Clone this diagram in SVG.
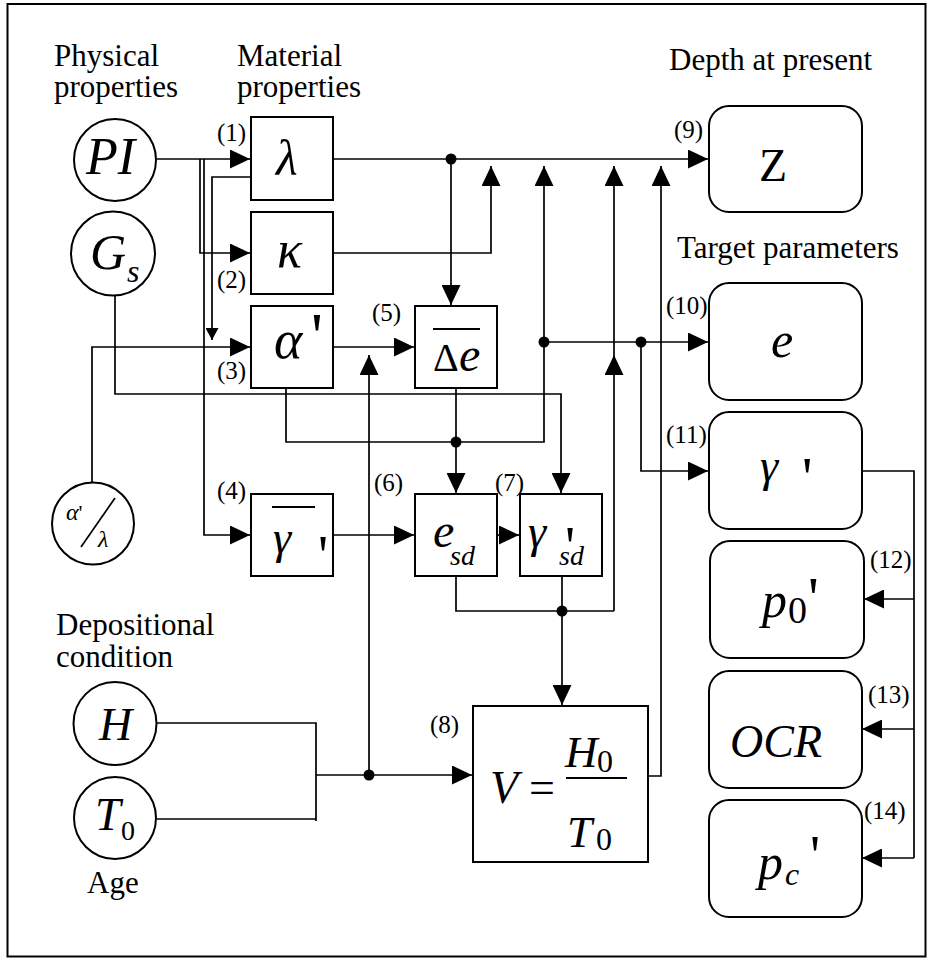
<svg xmlns="http://www.w3.org/2000/svg" width="927" height="958" viewBox="0 0 927 958">
<style>
text{font-family:"Liberation Serif","Times New Roman",serif}
.lbl{font-size:31px}
.num{font-size:25px}
.it{font-style:italic}
.box{fill:#fff;stroke:#000;stroke-width:2}
.c{fill:none;stroke:#000;stroke-width:1.7}
.dot{fill:#000}
</style>
<defs>
<marker id="a" viewBox="0 0 20 19" refX="20" refY="9.5" markerWidth="20" markerHeight="19" markerUnits="userSpaceOnUse" orient="auto">
<path d="M0,0 L20,9.5 L0,19 Z" fill="#000"/>
</marker>
<marker id="s" viewBox="0 0 12 13" refX="12" refY="6.5" markerWidth="12" markerHeight="13" markerUnits="userSpaceOnUse" orient="auto">
<path d="M0,0 L12,6.5 L0,13 Z" fill="#000"/>
</marker>
</defs>
<rect x="7.5" y="4" width="918" height="952.5" fill="#fff" stroke="#000" stroke-width="2"/>

<g id="headings">
<text class="lbl" x="54" y="66">Physical<tspan x="54" y="97">properties</tspan></text>
<text class="lbl" x="237" y="66">Material<tspan x="237" y="97">properties</tspan></text>
<text class="lbl" x="669" y="70">Depth at present</text>
<text class="lbl" x="677" y="258">Target parameters</text>
<text class="lbl" x="56" y="635">Depositional<tspan x="56" y="667">condition</tspan></text>
<text class="lbl" x="87" y="893">Age</text>
</g>

<g id="connectors">
<path class="c" d="M157,159 H250" marker-end="url(#a)"/>
<path class="c" d="M200,159 V253 H250" marker-end="url(#a)"/>
<path class="c" d="M204,159 V535 H250" marker-end="url(#a)"/>
<path class="c" d="M250,177 H212 V340" marker-end="url(#s)"/>
<path class="c" d="M115,295 V394 H561 V493" marker-end="url(#a)"/>
<path class="c" d="M92,482 V347 H250" marker-end="url(#a)"/>
<path class="c" d="M333,159 H708" marker-end="url(#a)"/>
<path class="c" d="M451,159 V305" marker-end="url(#a)"/>
<path class="c" d="M333,253 H491 V166" marker-end="url(#a)"/>
<path class="c" d="M333,347 H414" marker-end="url(#a)"/>
<path class="c" d="M286,388 V442 H544 V166" marker-end="url(#a)"/>
<path class="c" d="M456,388 V493" marker-end="url(#a)"/>
<path class="c" d="M544,342 H708" marker-end="url(#a)"/>
<path class="c" d="M641,342 V471 H708" marker-end="url(#a)"/>
<path class="c" d="M333,535 H414" marker-end="url(#a)"/>
<path class="c" d="M497,535 H519" marker-end="url(#a)"/>
<path class="c" d="M456,576 V611 H614"/>
<path class="c" d="M562,576 V611"/>
<path class="c" d="M562,611 V705" marker-end="url(#a)"/>
<path class="c" d="M614,611 V355" marker-end="url(#a)"/>
<path class="c" d="M614,355 V166" marker-end="url(#a)"/>
<path class="c" d="M157,723 H316 V821"/>
<path class="c" d="M157,819 H316"/>
<path class="c" d="M316,775 H472" marker-end="url(#a)"/>
<path class="c" d="M369,775 V355" marker-end="url(#a)"/>
<path class="c" d="M648,776 H661 V166" marker-end="url(#a)"/>
<path class="c" d="M862,471 H914 V858"/>
<path class="c" d="M914,599 H864" marker-end="url(#a)"/>
<path class="c" d="M914,729 H862" marker-end="url(#a)"/>
<path class="c" d="M914,858 H862" marker-end="url(#a)"/>
<circle class="dot" cx="451" cy="159" r="5.5"/>
<circle class="dot" cx="544" cy="342" r="5.5"/>
<circle class="dot" cx="641" cy="342" r="5.5"/>
<circle class="dot" cx="456" cy="442" r="5.5"/>
<circle class="dot" cx="562" cy="611" r="5.5"/>
<circle class="dot" cx="369" cy="775" r="5.5"/>
</g>

<g id="labels">
<text class="num" x="217" y="141">(1)</text>
<text class="num" x="217" y="288">(2)</text>
<text class="num" x="217" y="379">(3)</text>
<text class="num" x="217" y="499">(4)</text>
<text class="num" x="372" y="321">(5)</text>
<text class="num" x="374" y="491">(6)</text>
<text class="num" x="495" y="491">(7)</text>
<text class="num" x="430" y="733">(8)</text>
<text class="num" x="674" y="138">(9)</text>
<text class="num" x="666" y="314">(10)</text>
<text class="num" x="666" y="443">(11)</text>
<text class="num" x="870" y="568">(12)</text>
<text class="num" x="868" y="703">(13)</text>
<text class="num" x="864" y="819">(14)</text>
</g>

<g id="nodes">
<g id="PI">
<circle class="box" cx="115" cy="160" r="41"/>
<text class="it" x="86" y="174" font-size="52">PI</text>
</g>
<g id="Gs">
<circle class="box" cx="113" cy="253.5" r="42"/>
<text class="it" x="90" y="269" font-size="50">G<tspan x="127" y="282" font-size="32">s</tspan></text>
</g>
<g id="alpha-lambda">
<circle class="box" cx="93" cy="523.5" r="41"/>
<text class="it" x="66" y="520" font-size="24">α<tspan font-style="normal" font-size="22">'</tspan></text>
<line x1="81" y1="547" x2="115" y2="498" stroke="#000" stroke-width="1.7"/>
<text class="it" x="98" y="547" font-size="24">λ</text>
</g>
<g id="H">
<circle class="box" cx="115" cy="723.5" r="41.5"/>
<text class="it" x="99" y="740" font-size="46">H</text>
</g>
<g id="T0">
<circle class="box" cx="115" cy="818" r="41"/>
<text class="it" x="95" y="830" font-size="46">T<tspan x="121" y="840" font-style="normal" font-size="28">0</tspan></text>
</g>

<g id="lambda">
<rect class="box" x="251" y="117" width="82" height="83"/>
<text class="it" x="276" y="175" font-size="50">λ</text>
</g>
<g id="kappa">
<rect class="box" x="251" y="212" width="82" height="82"/>
<text class="it" x="277" y="267" font-size="52">κ</text>
</g>
<g id="alpha">
<rect class="box" x="251" y="306" width="82" height="82"/>
<text class="it" x="274" y="358" font-size="54">α<tspan x="311" y="358" font-style="normal" font-size="66">'</tspan></text>
</g>
<g id="gammabar">
<rect class="box" x="251" y="494" width="82" height="82"/>
<line x1="272" y1="507" x2="315" y2="507" stroke="#000" stroke-width="2"/>
<text class="it" x="273" y="553" font-size="46">γ<tspan x="318" y="575" font-style="normal" font-size="56">'</tspan></text>
</g>
<g id="deltae">
<rect class="box" x="415" y="306" width="82" height="82"/>
<line x1="433" y1="329" x2="480" y2="329" stroke="#000" stroke-width="2"/>
<text x="433" y="371" font-size="40">Δ<tspan x="459" font-style="italic" font-size="48">e</tspan></text>
</g>
<g id="esd">
<rect class="box" x="415" y="494" width="82" height="82"/>
<text class="it" x="433" y="547" font-size="48">e<tspan x="450" y="565" font-size="28">sd</tspan></text>
</g>
<g id="gammasd">
<rect class="box" x="520" y="494" width="82" height="82"/>
<text class="it" x="528" y="547" font-size="46">γ<tspan x="565" y="566" font-style="normal" font-size="56">'</tspan><tspan x="559" y="565" font-size="28">sd</tspan></text>
</g>
<g id="V">
<rect class="box" x="473" y="706" width="175" height="156"/>
<text class="it" x="490" y="803" font-size="46">V<tspan x="529" font-style="normal">=</tspan></text>
<line x1="566" y1="778" x2="627" y2="778" stroke="#000" stroke-width="2"/>
<text class="it" x="565" y="767" font-size="45">H<tspan x="597" y="772" font-style="normal" font-size="32">0</tspan></text>
<text class="it" x="567" y="847" font-size="45">T<tspan x="596" y="850" font-style="normal" font-size="32">0</tspan></text>
</g>

<g id="Z">
<rect class="box" x="709" y="106" width="153" height="106" rx="20"/>
<text x="773" y="181" font-size="46" text-anchor="middle">Z</text>
</g>
<g id="e">
<rect class="box" x="709" y="283" width="153" height="117" rx="20"/>
<text class="it" x="771" y="357" font-size="50">e</text>
</g>
<g id="gamma">
<rect class="box" x="709" y="412" width="153" height="117" rx="20"/>
<text class="it" x="760" y="481" font-size="46">γ<tspan x="802" y="497" font-style="normal" font-size="58">'</tspan></text>
</g>
<g id="p0">
<rect class="box" x="710" y="541" width="154" height="117" rx="20"/>
<text class="it" x="762" y="617" font-size="50">p<tspan x="788" y="623" font-style="normal" font-size="38">0</tspan><tspan x="808" y="618" font-style="normal" font-size="60">'</tspan></text>
</g>
<g id="OCR">
<rect class="box" x="709" y="671" width="153" height="117" rx="20"/>
<text class="it" x="730" y="757" font-size="46">OCR</text>
</g>
<g id="pc">
<rect class="box" x="709" y="800" width="153" height="117" rx="20"/>
<text class="it" x="758" y="879" font-size="50">p<tspan x="785" y="885" font-size="32">c</tspan><tspan x="810" y="875" font-style="normal" font-size="56">'</tspan></text>
</g>
</g>
</svg>
